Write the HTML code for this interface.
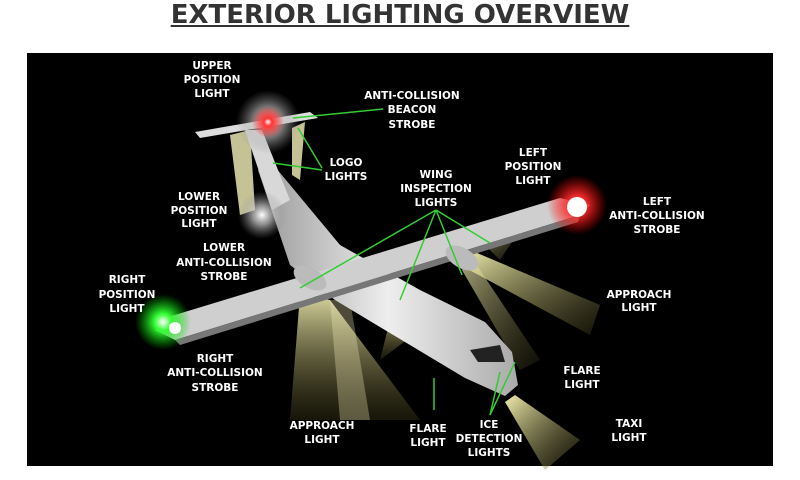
<!DOCTYPE html>
<html><head><meta charset="utf-8"><style>
html,body{margin:0;padding:0;background:#fff;}
body{width:800px;height:480px;overflow:hidden;position:relative;font-family:"DejaVu Sans","Liberation Sans",sans-serif;}
.t{position:absolute;left:0;top:0;width:800px;text-align:center;font-weight:bold;font-size:26px;color:#333;text-decoration:underline;line-height:30px;}
svg{position:absolute;left:0;top:0}
text{font-family:"DejaVu Sans","Liberation Sans",sans-serif;font-weight:bold;font-size:10.5px;fill:#fff;text-anchor:middle}
</style></head><body>
<div class="t">EXTERIOR LIGHTING OVERVIEW</div>
<svg width="800" height="480" viewBox="0 0 800 480">
<defs>
<radialGradient id="gr"><stop offset="0" stop-color="#fff"/><stop offset="0.25" stop-color="#f33"/><stop offset="1" stop-color="#f00" stop-opacity="0"/></radialGradient>
<radialGradient id="gw"><stop offset="0" stop-color="#fff"/><stop offset="0.4" stop-color="#ccc" stop-opacity="0.7"/><stop offset="1" stop-color="#888" stop-opacity="0"/></radialGradient>
<radialGradient id="gg"><stop offset="0" stop-color="#fff"/><stop offset="0.3" stop-color="#3f3"/><stop offset="1" stop-color="#0c0" stop-opacity="0"/></radialGradient>
<linearGradient id="by" x1="0" y1="0" x2="1" y2="1"><stop offset="0" stop-color="#f4f0b0"/><stop offset="1" stop-color="#6a6530" stop-opacity="0.2"/></linearGradient>
<linearGradient id="bd" x1="0" y1="0" x2="0" y2="1"><stop offset="0" stop-color="#f0ecb0"/><stop offset="1" stop-color="#554f20" stop-opacity="0.3"/></linearGradient>
<linearGradient id="fus" x1="0" y1="0" x2="1" y2="0"><stop offset="0" stop-color="#999"/><stop offset="0.5" stop-color="#eee"/><stop offset="1" stop-color="#aaa"/></linearGradient>
</defs>
<rect x="27" y="53" width="746" height="413" fill="#000"/>
<polygon points="300,295 290,420 420,420 330,300" fill="url(#bd)" opacity="0.9"/>
<polygon points="330,300 340,420 370,420 350,300" fill="#fff6c0" opacity="0.3"/>
<polygon points="395,300 380,360 420,330" fill="url(#bd)"/>
<polygon points="470,250 600,305 590,335 460,265" fill="url(#by)"/>
<polygon points="470,255 540,360 520,370 462,270" fill="url(#by)" opacity="0.7"/>
<polygon points="515,395 580,440 545,470 505,402" fill="url(#by)"/>
<polygon points="230,135 250,130 255,210 240,215" fill="#e8e4b0" opacity="0.85"/>
<polygon points="292,128 305,122 300,180 292,175" fill="#e8e4b0" opacity="0.85"/>
<polygon points="480,240 520,230 500,260" fill="url(#by)" opacity="0.6"/>
<polygon points="258,170 276,168 340,245 420,290 485,322 512,352 518,385 505,396 465,378 410,345 335,300 290,265" fill="url(#fus)"/>
<path d="M470,350 L500,345 L505,362 L478,362Z" fill="#222"/>
<polygon points="155,330 165,318 560,198 590,205 580,215 175,340" fill="#cfcfcf"/>
<polygon points="175,340 580,215 578,222 180,345" fill="#777"/>
<ellipse cx="310" cy="278" rx="18" ry="10" fill="#bbb" transform="rotate(30 310 278)"/>
<ellipse cx="462" cy="258" rx="18" ry="10" fill="#bbb" transform="rotate(30 462 258)"/>
<polygon points="245,130 262,130 290,200 272,210" fill="#d8d8d8"/>
<polygon points="195,132 310,112 318,118 200,138" fill="#ddd"/>
<circle cx="268" cy="122" r="32" fill="url(#gw)"/>
<circle cx="268" cy="122" r="16" fill="url(#gr)"/>
<circle cx="262" cy="215" r="24" fill="url(#gw)"/>
<circle cx="163" cy="322" r="28" fill="url(#gg)"/>
<circle cx="577" cy="205" r="30" fill="url(#gr)"/>
<circle cx="577" cy="207" r="10" fill="#fff"/>
<circle cx="175" cy="328" r="6" fill="#fff"/>
<g stroke="#3c3" stroke-width="1.5" fill="none">
<path d="M383,109 L293,118"/>
<path d="M322,168 L298,128 M322,170 L273,163"/>
<path d="M436,210 L300,288 M436,210 L400,300 M436,210 L462,275 M436,210 L490,243"/>
<path d="M434,410 L434,378"/>
<path d="M490,415 L500,372 M490,415 L515,362"/>
</g>
<text x="212" y="69">UPPER</text><text x="212" y="83">POSITION</text><text x="212" y="97">LIGHT</text>
<text x="412" y="99">ANTI-COLLISION</text><text x="412" y="113">BEACON</text><text x="412" y="128">STROBE</text>
<text x="346" y="166">LOGO</text><text x="346" y="180">LIGHTS</text>
<text x="436" y="178">WING</text><text x="436" y="192">INSPECTION</text><text x="436" y="206">LIGHTS</text>
<text x="533" y="156">LEFT</text><text x="533" y="170">POSITION</text><text x="533" y="184">LIGHT</text>
<text x="657" y="205">LEFT</text><text x="657" y="219">ANTI-COLLISION</text><text x="657" y="233">STROBE</text>
<text x="199" y="200">LOWER</text><text x="199" y="214">POSITION</text><text x="199" y="227">LIGHT</text>
<text x="224" y="251">LOWER</text><text x="224" y="266">ANTI-COLLISION</text><text x="224" y="280">STROBE</text>
<text x="127" y="283">RIGHT</text><text x="127" y="298">POSITION</text><text x="127" y="312">LIGHT</text>
<text x="215" y="362">RIGHT</text><text x="215" y="376">ANTI-COLLISION</text><text x="215" y="391">STROBE</text>
<text x="639" y="298">APPROACH</text><text x="639" y="311">LIGHT</text>
<text x="582" y="374">FLARE</text><text x="582" y="388">LIGHT</text>
<text x="629" y="427">TAXI</text><text x="629" y="441">LIGHT</text>
<text x="322" y="429">APPROACH</text><text x="322" y="443">LIGHT</text>
<text x="428" y="432">FLARE</text><text x="428" y="446">LIGHT</text>
<text x="489" y="428">ICE</text><text x="489" y="442">DETECTION</text><text x="489" y="456">LIGHTS</text>
</svg>
</body></html>
